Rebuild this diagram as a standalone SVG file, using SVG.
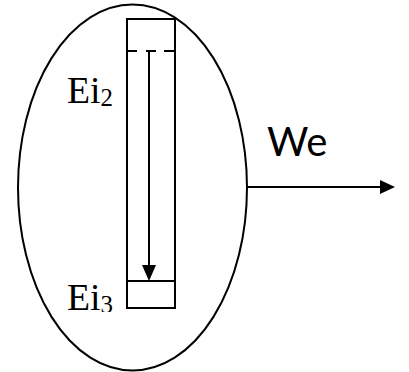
<svg xmlns="http://www.w3.org/2000/svg" width="409" height="372" viewBox="0 0 409 372">
<style>
.ln{fill:none;stroke:#000;stroke-width:2}
.ei{font-family:"Liberation Serif",serif;font-size:38px;fill:#000}
.sub{font-size:25px}
.we{font-family:Lato,"Open Sans",sans-serif;font-size:40px;fill:#000}
</style>
<defs>
<clipPath id="clip3"><rect x="0" y="0" width="409" height="312"/></clipPath>
</defs>
<rect width="409" height="372" fill="#fff"/>
<g id="system">
<ellipse class="ln" cx="132.5" cy="187.5" rx="114.5" ry="183"/>
</g>
<g id="column">
<rect class="ln" x="127" y="19" width="48" height="289"/>
<line class="ln" x1="127" y1="281" x2="175" y2="281"/>
<line class="ln" x1="127" y1="51" x2="137" y2="51"/>
<line class="ln" x1="146" y1="51" x2="156" y2="51"/>
<line class="ln" x1="164" y1="51" x2="175" y2="51"/>
</g>
<g id="label-ei2"><text class="ei" x="67" y="103" textLength="46" lengthAdjust="spacingAndGlyphs">Ei<tspan class="sub" dy="3">2</tspan></text></g>
<g id="label-ei3" clip-path="url(#clip3)"><text class="ei" x="67" y="310" textLength="46" lengthAdjust="spacingAndGlyphs">Ei<tspan class="sub" dy="3">3</tspan></text></g>
<g id="label-we"><text class="we" x="267" y="156">We</text></g>
<g id="connectors">
<line x1="149" y1="51" x2="149" y2="266" stroke="#000" stroke-width="2"/>
<path d="M142,265 L156,265 L149,281 Z" fill="#000"/>
<line x1="247" y1="187" x2="381" y2="187" stroke="#000" stroke-width="2"/>
<path d="M380,180 L395,187 L380,194 Z" fill="#000"/>
</g>
</svg>
